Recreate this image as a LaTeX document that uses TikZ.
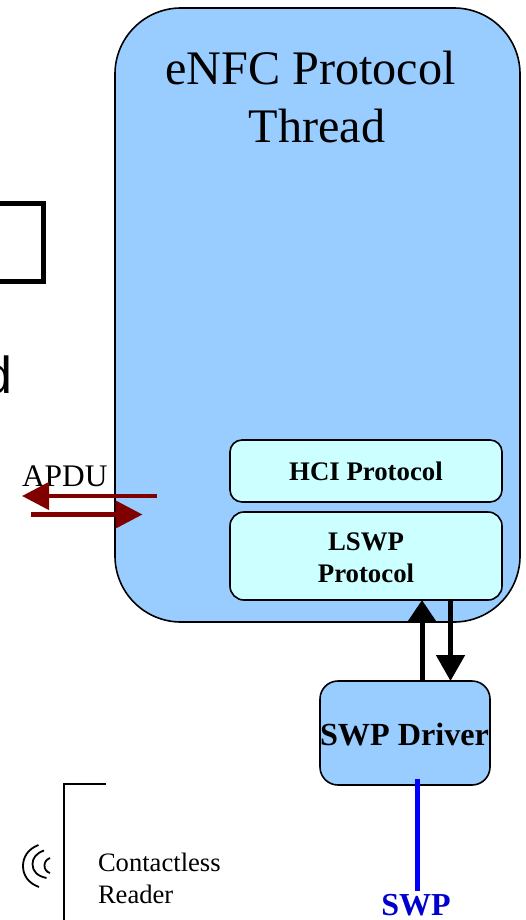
\documentclass[tikz,border=0pt]{standalone}
\usepackage{fontspec}
\setmainfont{Liberation Serif}
\newfontfamily\sansf{Liberation Sans}
\usetikzlibrary{arrows.meta}
\definecolor{paleblue}{HTML}{99CCFF}
\definecolor{palecyan}{HTML}{CCFFFF}
\definecolor{darkred}{HTML}{800000}
\definecolor{swpblue}{HTML}{0000CC}
\newcommand{\fs}[1]{\fontsize{#1pt}{#1pt}\selectfont}
\tikzset{
  panel/.style={draw=black,line width=1.6pt,rounded corners=#1,inner sep=0pt,outer sep=0pt},
  labelbox/.style={inner sep=0pt,outer sep=0pt,align=center},
  blackup/.style={draw=black,line width=5pt,-{Triangle[width=28pt,length=22pt]}},
  blackdown/.style={draw=black,line width=5pt,-{Triangle[width=28pt,length=26pt]}},
  redflow/.style={draw=darkred,line width=4.5pt,-{Triangle[width=27pt,length=27pt]}},
  wave/.style={line width=1.8pt}
}
\begin{document}
\begin{tikzpicture}[x=1pt,y=-1pt]
\useasboundingbox (0,0) rectangle (525,920);
\clip (0,0) rectangle (525,920);
% cropped box and letter on the left
\node[draw=black,line width=5pt,inner sep=0pt,outer sep=0pt,minimum width=120pt,minimum height=78pt,anchor=east] (cropbox) at (43.5,242) {};
\node[anchor=base east,inner sep=0pt,font=\sansf\fs{52}] (cropd) at (13,393) {d};
% main thread box
\node[panel=66pt,fill=paleblue,minimum width=405pt,minimum height=614pt,anchor=north west] (main) at (115,8) {};
\node[labelbox,font=\fs{48.2},anchor=base] (title) at (310.5,85) {eNFC Protocol};
\node[labelbox,font=\fs{48.2},anchor=base] (title2) at (317,143) {Thread};
% inner boxes
\node[panel=12pt,fill=palecyan,minimum width=272pt,minimum height=62pt,anchor=north west,font=\bfseries\fs{26.8}] (hci) at (230,440) {HCI Protocol};
\node[panel=14pt,fill=palecyan,minimum width=272pt,minimum height=88pt,anchor=north west] (lswp) at (230,512) {};
\node[labelbox,font=\bfseries\fs{26.8},anchor=base] (lswp1) at (366,550) {LSWP};
\node[labelbox,font=\bfseries\fs{26.8},anchor=base] (lswp2) at (366,582) {Protocol};
% driver
\node[panel=18pt,fill=paleblue,minimum width=170pt,minimum height=104pt,anchor=north west] (drv) at (320,681) {};
\node[labelbox,font=\bfseries\fs{32.2},anchor=base] (drvt) at (404.5,745) {SWP Driver};
% driver arrows
\coordinate (upx) at (422,0);
\coordinate (downx) at (450.5,0);
\draw[blackup] (drv.north -| upx) -- (lswp.south -| upx);
\draw[blackdown] (lswp.south -| downx) -- (drv.north -| downx);
% SWP line
\coordinate (swpend) at (417.5,891);
\coordinate (swpstart) at (417.5,779);
\draw[draw=blue,line width=5pt] (swpstart) -- (swpend);
\node[labelbox,font=\bfseries\fs{32},text=swpblue,anchor=base] (swp) at (416,915.5) {SWP};
% APDU
\node[labelbox,font=\fs{31.4},anchor=base] (apdu) at (64.8,486) {APDU};
\coordinate (a1) at (157,496);
\coordinate (a2) at (22,496);
\coordinate (b1) at (31,514.5);
\coordinate (b2) at (142.5,514.5);
\draw[redflow] (a1) -- (a2);
\draw[redflow] (b1) -- (b2);
% reader
\coordinate (r0) at (105.5,783.5);
\coordinate (r1) at (64,783.5);
\coordinate (r2) at (64,925);
\draw[line width=2pt] (r0) -- (r1) -- (r2);
\node[labelbox,font=\fs{26.6},anchor=base west] (cl) at (98,871) {Contactless};
\node[labelbox,font=\fs{26.6},anchor=base west] (rd) at (98,903) {Reader};
% radio waves
\draw[wave] (38.5,845) .. controls (28,849) and (23,857) .. (23,866) .. controls (23,875) and (28,883) .. (39,887);
\draw[wave] (44,850.5) .. controls (36.5,853) and (32.5,858) .. (32.5,864) .. controls (32.5,871) and (37,876) .. (46.5,878);
\draw[wave] (50,858) .. controls (46.5,859.5) and (44.5,862) .. (44.5,865.5) .. controls (44.5,869) and (46.5,872) .. (50,873);
\end{tikzpicture}
\end{document}
